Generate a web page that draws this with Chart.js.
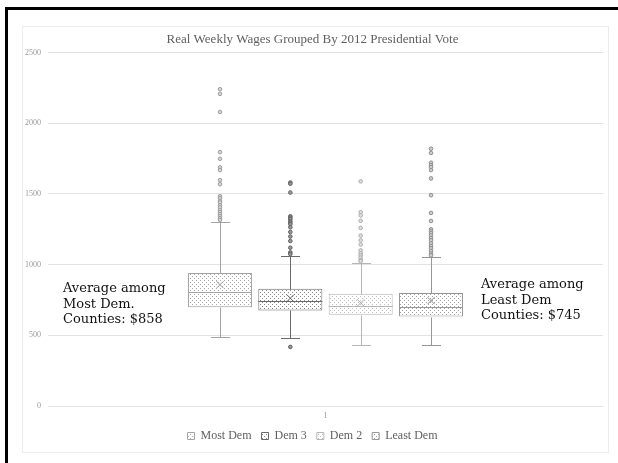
<!DOCTYPE html>
<html>
<head>
<meta charset="utf-8">
<script src="https://cdn.jsdelivr.net/npm/chart.js@4"></script>
<style>
  html, body { margin: 0; padding: 0; background: #fff; }
  #wrap { position: relative; width: 618px; height: 463px; overflow: hidden; background: #fff; }
  #topRule { position: absolute; left: 5px; top: 7px; width: 613px; height: 3px; background: #000; }
  #leftRule { position: absolute; left: 5px; top: 7px; width: 3px; height: 456px; background: #000; }
  #frame { position: absolute; left: 22px; top: 26px; width: 585px; height: 425px; border: 1px solid #ececec; }
  #chartBox { position: absolute; left: 0; top: 0; width: 618px; height: 463px; }
  .note { position: absolute; font-family: "DejaVu Serif", serif; font-size: 13px; line-height: 15.5px; color: #111; white-space: nowrap; }
</style>
</head>
<body>
<div id="wrap">
  <div id="topRule"></div>
  <div id="leftRule"></div>
  <div id="frame"></div>
  <div id="chartBox"><canvas id="c" width="618" height="463"></canvas></div>
  <div class="note" id="noteLeft" style="left:63px; top:280px;">Average among<br>Most Dem.<br>Counties: $858</div>
  <div class="note" id="noteRight" style="left:481px; top:276px;">Average among<br>Least Dem<br>Counties: $745</div>
</div>
<script>
// Category and group names
const categories = ['1'];
const seriesNames = ['Most Dem', 'Dem 3', 'Dem 2', 'Least Dem'];

// Box statistics per group (weekly wages, $)
const q1 = [699, 676, 645, 633];
const median = [806, 742, 709, 699];
const q3 = [940, 830, 794, 799];
const whiskerLow = [487, 479, 435, 432];
const whiskerHigh = [1302, 1061, 1011, 1054];
const means = [858, 763, 730, 745];

// Outlying counties per group
const outliersMostDem = [2241, 2208, 2080, 1796, 1749, 1688, 1669, 1598, 1569, 1484, 1470, 1451, 1440, 1420, 1405, 1387, 1372, 1357, 1342, 1328, 1316];
const outliersDem3 = [1581, 1572, 1510, 1342, 1333, 1323, 1307, 1297, 1286, 1264, 1231, 1199, 1167, 1120, 1087, 1075, 418];
const outliersDem2 = [1589, 1371, 1348, 1310, 1260, 1206, 1172, 1142, 1101, 1082, 1066, 1050, 1033, 1024];
const outliersLeastDem = [1820, 1790, 1721, 1704, 1690, 1669, 1610, 1491, 1366, 1309, 1250, 1236, 1222, 1206, 1188, 1172, 1151, 1132, 1116, 1097, 1078, 1066];
const outliers = [outliersMostDem, outliersDem3, outliersDem2, outliersLeastDem];

// Y axis ticks
const yTicks = [0, 500, 1000, 1500, 2000, 2500];

// Visual styling per group
const styles = [
  { line: '#a4a4a4', dot: '#a9a9a9', mark: '#9c9c9c', ptFill: '#d6d6d6' },
  { line: '#6a6a6a', dot: '#8a8a8a', mark: '#5e5e5e', ptFill: '#9a9a9a' },
  { line: '#b6b6b6', dot: '#c0c0c0', mark: '#ababab', ptFill: '#e0e0e0' },
  { line: '#979797', dot: '#a2a2a2', mark: '#8c8c8c', ptFill: '#cfcfcf' }
];

function makePattern(dotColor) {
  const p = document.createElement('canvas');
  p.width = 4; p.height = 4;
  const g = p.getContext('2d');
  g.fillStyle = '#ffffff';
  g.fillRect(0, 0, 4, 4);
  g.fillStyle = dotColor;
  g.fillRect(0, 0, 1, 1);
  g.fillRect(2, 2, 1, 1);
  return g.createPattern(p, 'repeat');
}
const ctx = document.getElementById('c').getContext('2d');
const patterns = styles.map(s => makePattern(s.dot));

// Whiskers, medians, means and outliers drawn on top of the floating bars
const boxDetails = {
  id: 'boxDetails',
  afterDatasetsDraw(chart) {
    const g = chart.ctx;
    const y = chart.scales.y;
    chart.data.datasets.forEach((ds, i) => {
      const bar = chart.getDatasetMeta(i).data[0];
      if (!bar) return;
      const x = Math.round(bar.x) + 0.5;
      const half = bar.width / 2;
      const st = styles[i];
      const py = v => Math.round(y.getPixelForValue(v)) + 0.5;
      g.save();
      g.strokeStyle = st.line;
      g.lineWidth = 1;
      g.beginPath();
      // upper whisker
      g.moveTo(x, py(q3[i])); g.lineTo(x, py(whiskerHigh[i]));
      g.moveTo(x - 9.5, py(whiskerHigh[i])); g.lineTo(x + 9.5, py(whiskerHigh[i]));
      // lower whisker
      g.moveTo(x, py(q1[i])); g.lineTo(x, py(whiskerLow[i]));
      g.moveTo(x - 9.5, py(whiskerLow[i])); g.lineTo(x + 9.5, py(whiskerLow[i]));
      // median
      g.moveTo(bar.x - half, py(median[i])); g.lineTo(bar.x + half, py(median[i]));
      g.stroke();
      // mean marker
      const my = y.getPixelForValue(means[i]);
      g.strokeStyle = st.mark;
      g.beginPath();
      g.moveTo(bar.x - 3.5, my - 3.5); g.lineTo(bar.x + 3.5, my + 3.5);
      g.moveTo(bar.x + 3.5, my - 3.5); g.lineTo(bar.x - 3.5, my + 3.5);
      g.stroke();
      // outliers
      g.fillStyle = st.ptFill;
      g.strokeStyle = st.mark;
      outliers[i].forEach(v => {
        g.beginPath();
        g.arc(bar.x, y.getPixelForValue(v), 1.8, 0, Math.PI * 2);
        g.fill();
        g.stroke();
      });
      g.restore();
    });
  }
};

const datasets = seriesNames.map((name, i) => ({
  label: name,
  data: [[q1[i], q3[i]]],
  backgroundColor: patterns[i],
  borderColor: styles[i].line,
  borderWidth: 1,
  borderSkipped: false,
  barPercentage: 0.91,
  categoryPercentage: 0.507
}));

new Chart(ctx, {
  type: 'bar',
  data: { labels: categories, datasets },
  plugins: [boxDetails],
  options: {
    responsive: false,
    animation: false,
    layout: { padding: { left: 22, right: 15, top: 26, bottom: 11 } },
    plugins: {
      title: {
        display: true,
        text: 'Real Weekly Wages Grouped By 2012 Presidential Vote',
        color: '#5f5f5f',
        font: { family: '"Liberation Serif", serif', size: 13, weight: 'normal' },
        padding: { top: 6, bottom: 5 }
      },
      legend: {
        position: 'bottom',
        labels: {
          color: '#5f5f5f',
          font: { family: '"Liberation Serif", serif', size: 12 },
          boxWidth: 7,
          boxHeight: 7,
          padding: 10,
          generateLabels(chart) {
            return chart.data.datasets.map((ds, i) => ({
              text: ds.label,
              fillStyle: patterns[i],
              strokeStyle: styles[i].line,
              lineWidth: 1,
              datasetIndex: i,
              fontColor: '#5f5f5f'
            }));
          }
        }
      },
      tooltip: { enabled: false }
    },
    scales: {
      x: {
        grid: { display: false, drawTicks: false },
        border: { display: false },
        ticks: { color: '#999', font: { family: '"Liberation Serif", serif', size: 8 }, padding: 5 },
        afterFit(scale) { scale.height = 14; }
      },
      y: {
        min: 0,
        max: 2500,
        afterBuildTicks(scale) { scale.ticks = yTicks.map(v => ({ value: v })); },
        grid: { color: '#e2e2e2', lineWidth: 1, drawTicks: false },
        border: { display: false },
        ticks: {
          color: '#9a9a9a',
          font: { family: '"Liberation Serif", serif', size: 8 },
          padding: 7,
          callback: v => String(v)
        },
        afterFit(scale) { scale.width = 26; }
      }
    }
  }
});
</script>
</body>
</html>
